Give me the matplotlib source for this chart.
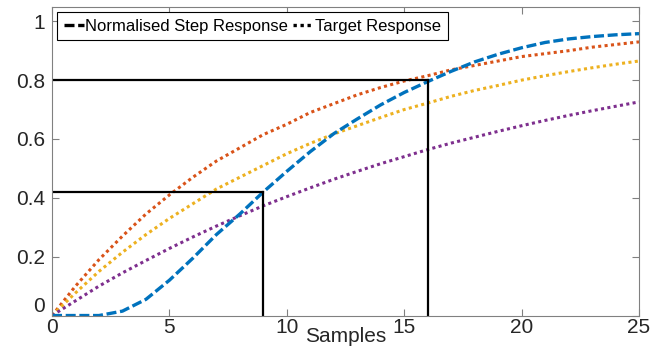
import numpy as np
import matplotlib
matplotlib.use("Agg")
import matplotlib.pyplot as plt
from matplotlib.lines import Line2D

plt.rcParams['font.family'] = ['Liberation Sans', 'DejaVu Sans']

samples = list(range(26))

# normalised step response (blue, dashed)
step = [0, 0, 0, 0.015, 0.055, 0.12, 0.195, 0.275, 0.345, 0.42, 0.49,
        0.557, 0.618, 0.668, 0.716, 0.758, 0.795, 0.83, 0.862, 0.888, 0.91,
        0.928, 0.94, 0.948, 0.954, 0.958]

# target responses (dotted)
target_fast = [0, 0.10, 0.19, 0.27, 0.345, 0.41, 0.47, 0.525, 0.57, 0.615,
               0.65, 0.69, 0.72, 0.75, 0.775, 0.797, 0.815, 0.835, 0.85,
               0.865, 0.88, 0.89, 0.90, 0.912, 0.921, 0.93]
target_mid = [0, 0.077, 0.15, 0.215, 0.275, 0.33, 0.38, 0.43, 0.47, 0.51,
              0.55, 0.585, 0.617, 0.645, 0.673, 0.70, 0.722, 0.745, 0.765,
              0.782, 0.80, 0.815, 0.829, 0.842, 0.854, 0.865]
target_slow = [0, 0.05, 0.10, 0.145, 0.187, 0.228, 0.267, 0.304, 0.339,
               0.373, 0.404, 0.434, 0.463, 0.49, 0.516, 0.54, 0.564, 0.586,
               0.606, 0.626, 0.645, 0.663, 0.68, 0.696, 0.711, 0.726]

# marker points (sample, level)
marks_x = [9, 16]
marks_y = [0.42, 0.8]

fig = plt.figure(figsize=(6.67, 3.58), dpi=100)
ax = fig.add_axes([0.078, 0.117, 0.88, 0.863])

dot = (0, (1, 1.1))
dash = (0, (3, 1.1))
ax.plot(samples, target_fast, color='#D95319', lw=2.2, linestyle=dot)
ax.plot(samples, target_mid, color='#EDB120', lw=2.2, linestyle=dot)
ax.plot(samples, target_slow, color='#7E2F8E', lw=2.2, linestyle=dot)
ax.plot(samples, step, color='#0072BD', lw=2.4, linestyle=dash)

for mx, my in zip(marks_x, marks_y):
    ax.plot([0, mx], [my, my], color='black', lw=1.6)
    ax.plot([mx, mx], [0, my], color='black', lw=1.6)

ax.set_xlim(0, 25)
ax.set_ylim(-0.002, 1.048)
ax.set_xticks([0, 5, 10, 15, 20, 25])
ax.set_yticks([0, 0.2, 0.4, 0.6, 0.8, 1])
ax.set_yticklabels(['0', '0.2', '0.4', '0.6', '0.8', '1'])
ax.tick_params(direction='in', top=True, right=True, length=5,
               color='#808080', labelcolor='#262626', labelsize=15)
ax.tick_params(axis='y', pad=5)
ax.tick_params(axis='x', pad=1)
ax.get_yticklabels()[0].set_va('bottom')
for s in ax.spines.values():
    s.set_color('#808080')
ax.set_xlabel('Samples', fontsize=15, color='#262626', labelpad=-7)

handles = [Line2D([], [], color='black', lw=2.4, linestyle=dash),
           Line2D([], [], color='black', lw=2.4, linestyle=dot)]
leg = ax.legend(handles, ['Normalised Step Response', 'Target Response'],
                loc='upper left', ncol=2, fontsize=12, handlelength=1.2,
                handletextpad=0.1, columnspacing=0.3, borderpad=0.4,
                borderaxespad=0.3, fancybox=False, framealpha=1)
leg.get_frame().set_edgecolor('black')
leg.get_frame().set_linewidth(0.8)

fig.savefig('out.png', dpi=100)
